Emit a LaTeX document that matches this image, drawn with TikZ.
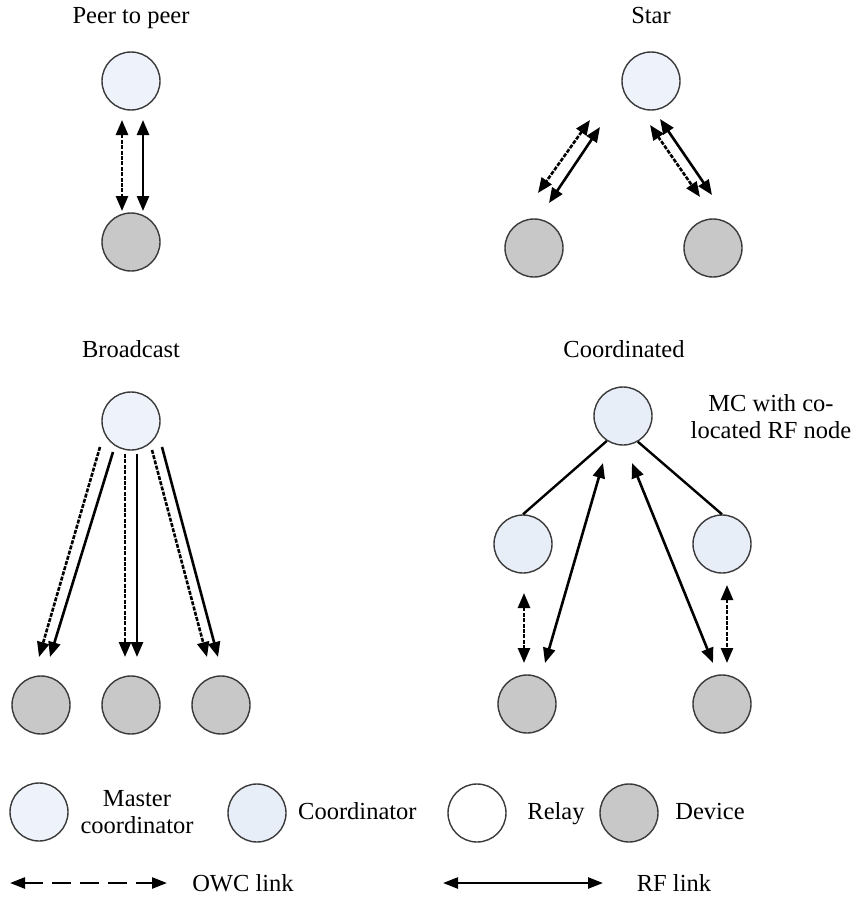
\documentclass[tikz,border=0pt]{standalone}
\usepackage{fontspec}
\setmainfont{Liberation Serif}
\usetikzlibrary{arrows.meta,calc}
\definecolor{mcblue}{HTML}{EEF2FA}
\definecolor{coblue}{HTML}{E8EEF8}
\definecolor{devgray}{HTML}{C8C8C8}
\definecolor{rim}{HTML}{3A3A3A}
\tikzset{
  circ/.style={circle,draw=rim,line width=1.4pt,minimum size=58pt,inner sep=0pt},
  mcnode/.style={circ,fill=mcblue},
  conode/.style={circ,fill=coblue},
  devnode/.style={circ,fill=devgray},
  relaynode/.style={circ,fill=white},
  mlbl/.style={font=\fontsize{24.5}{27}\selectfont,inner sep=0pt,align=center},
  lbl/.style={mlbl,text height=17pt,text depth=5pt},
  tip/.style={line width=2.6pt,line cap=butt},
  rf/.style={tip,{Triangle[length=15pt,width=12pt]}-{Triangle[length=15pt,width=12pt]}},
  owc/.style={rf,dash pattern=on 4pt off 1.4pt},
  rfone/.style={tip,-{Triangle[length=15pt,width=12pt]}},
  owcone/.style={rfone,dash pattern=on 4pt off 1.4pt},
  link/.style={line width=2.4pt},
  legrf/.style={line width=2.4pt,{Triangle[length=15pt,width=11pt]}-{Triangle[length=15pt,width=11pt]}},
  legowc/.style={legrf,dash pattern=on 19pt off 9pt},
}
\begin{document}
\begin{tikzpicture}[x=1pt,y=-1pt]
\useasboundingbox (0,0) rectangle (856,899);

% titles
\node[lbl] (t1) at (131,18) {Peer to peer};
\node[lbl] (t2) at (651,18) {Star};
\node[lbl] (t3) at (131,351) {Broadcast};
\node[lbl] (t4) at (624,351) {Coordinated};
\node[mlbl] (t5) at (771,417) {MC with co-\\located RF node};

% Peer to peer
\node[mcnode] (p1) at (131,81) {};
\node[devnode] (p2) at (131,242) {};
\draw[owc] ($(p1)+(-9,39)$) -- ($(p2)+(-9,-31)$);
\draw[rf]  ($(p1)+(12,39)$) -- ($(p2)+(12,-31)$);

% Star
\node[mcnode] (s0) at (651,81) {};
\node[devnode] (s1) at (534,248) {};
\node[devnode] (s2) at (713,248) {};
\draw[owc] ($(s0)+(-61,39)$) -- ($(s1)+(4,-55)$);
\draw[rf]  ($(s0)+(-51,46)$) -- ($(s1)+(15,-45)$);
\draw[owc] ($(s0)+(-1,44)$) -- ($(s2)+(-13,-51)$);
\draw[rf]  ($(s0)+(9,38)$) -- ($(s2)+(-1,-53)$);

% Broadcast
\node[mcnode] (b0) at (131,421) {};
\node[devnode] (b1) at (41,705) {};
\node[devnode] (b2) at (131,705) {};
\node[devnode] (b3) at (221,705) {};
\draw[owcone] ($(b0)+(-31,26)$) -- ($(b1)+(-2,-48)$);
\draw[rfone]  ($(b0)+(-18,31)$) -- ($(b1)+(9,-48)$);
\draw[owcone] ($(b0)+(-6,33)$) -- ($(b2)+(-6,-48)$);
\draw[rfone]  ($(b0)+(6,33)$) -- ($(b2)+(6,-48)$);
\draw[owcone] ($(b0)+(21,29)$) -- ($(b3)+(-14,-48)$);
\draw[rfone]  ($(b0)+(31,26)$) -- ($(b3)+(-3,-48)$);

% Coordinated
\node[conode] (c0) at (623,416) {};
\node[conode] (c1) at (523,544) {};
\node[conode] (c2) at (722,544) {};
\node[devnode] (d1) at (527,704) {};
\node[devnode] (d2) at (722,704) {};
\draw[link] (c0.237) -- (c1.north);
\draw[link] (c0.300) -- (c2.north);
\draw[rf] ($(c0)+(-20,47)$) -- ($(d1)+(18,-41)$);
\draw[rf] ($(c0)+(9,47)$) -- ($(d2)+(-9,-41)$);
\draw[owc] ($(c1)+(1,49)$) -- ($(d1)+(-3,-41)$);
\draw[owc] ($(c2)+(5,41)$) -- ($(d2)+(5,-41)$);

% Legend
\node[mcnode] (l1) at (39,812) {};
\node[mlbl] (l1t) at (137,812) {Master\\coordinator};
\node[conode] (l2) at (257,813) {};
\node[lbl,anchor=west] (l2t) at (298,813) {Coordinator};
\node[relaynode] (l3) at (477,813) {};
\node[lbl] (l3t) at (556,813) {Relay};
\node[devnode] (l4) at (629,813) {};
\node[lbl] (l4t) at (710,813) {Device};

\coordinate (o1) at (10,883);
\coordinate (o2) at (167,883);
\draw[legowc] (o1) -- (o2);
\node[lbl] (ot) at (243,885) {OWC link};
\coordinate (r1) at (443,883);
\coordinate (r2) at (603,883);
\draw[legrf] (r1) -- (r2);
\node[lbl] (rt) at (674,885) {RF link};
\end{tikzpicture}
\end{document}
